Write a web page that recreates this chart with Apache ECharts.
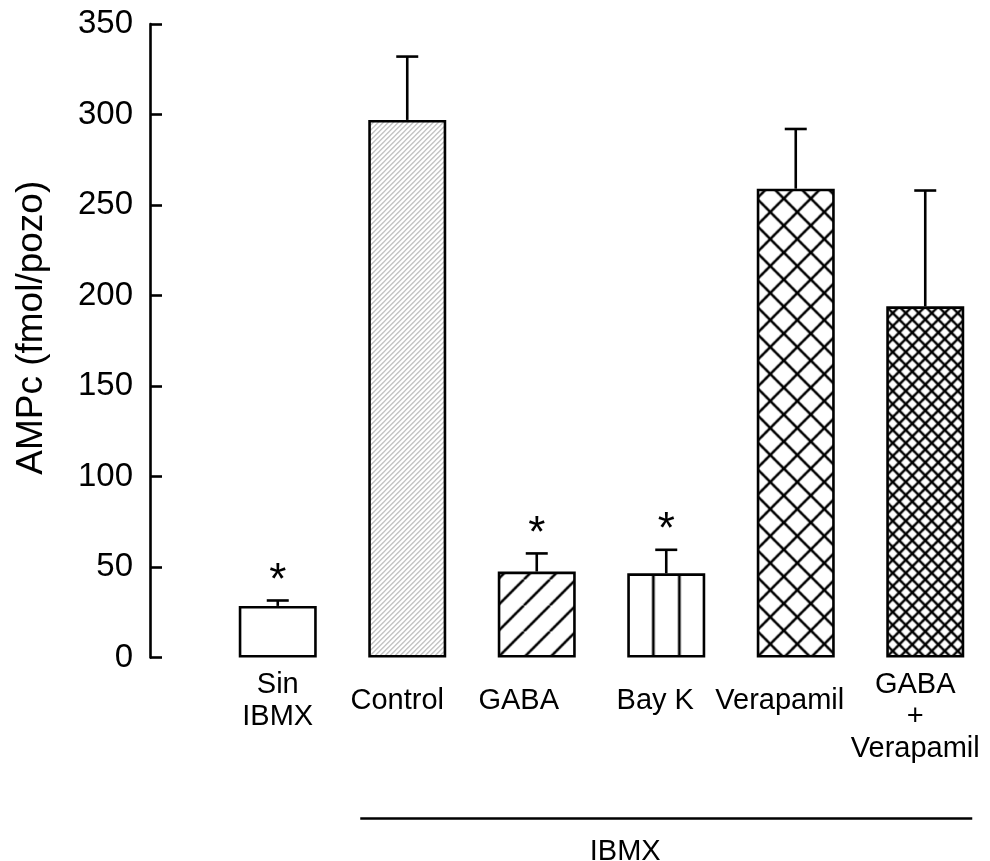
<!DOCTYPE html>
<html>
<head>
<meta charset="utf-8">
<script src="https://cdn.jsdelivr.net/npm/echarts@6/dist/echarts.min.js"></script>
<style>
  html, body { margin: 0; padding: 0; background: #fff; }
  #main { width: 990px; height: 861px; }
</style>
</head>
<body>
<div id="main"></div>
<script>
// data
var categories = ['Sin\nIBMX', 'Control', 'GABA', 'Bay K', 'Verapamil', 'GABA\n+\nVerapamil'];
var means = [28.5, 297, 47.5, 46.5, 259, 194];
var sem = [3, 35, 10, 13, 33, 64];
var signif = [1, 0, 1, 1, 0, 0];
var groupLabel = 'IBMX';

var FONT = '"Liberation Sans", Arial, sans-serif';
var BAR_W = 78;
// the original labels sit a little left of their bars
var labelShift = [0, 10, 18, 11, 16, 10];

// small canvas tiles for the hatch fills
function tile(w, h, draw) {
    var c = document.createElement('canvas');
    c.width = w; c.height = h;
    var ctx = c.getContext('2d');
    ctx.fillStyle = '#fff';
    ctx.fillRect(0, 0, w, h);
    draw(ctx, w, h);
    return c;
}
function diag(ctx, w, h, back) {
    for (var k = -1; k <= 1; k++) {
        ctx.beginPath();
        if (back) { ctx.moveTo(k * w, 0); ctx.lineTo(k * w + w, h); }
        else { ctx.moveTo(k * w, h); ctx.lineTo(k * w + w, 0); }
        ctx.stroke();
    }
}
var tiles = [
    null,
    tile(5, 5, function (ctx, w, h) { ctx.strokeStyle = '#8c8c8c'; ctx.lineWidth = 1; diag(ctx, w, h); }),
    tile(26, 26, function (ctx, w, h) { ctx.strokeStyle = '#000'; ctx.lineWidth = 2.6; diag(ctx, w, h); }),
    tile(26, 2, function (ctx, w, h) { ctx.fillStyle = '#000'; ctx.fillRect(0, 0, 1.4, h); ctx.fillRect(w - 1.3, 0, 1.3, h); }),
    tile(27, 27, function (ctx, w, h) { ctx.strokeStyle = '#000'; ctx.lineWidth = 2.6; diag(ctx, w, h); diag(ctx, w, h, true); }),
    tile(13, 13, function (ctx, w, h) { ctx.strokeStyle = '#000'; ctx.lineWidth = 2.4; diag(ctx, w, h); diag(ctx, w, h, true); })
];

var rich = {};
labelShift.forEach(function (s, i) {
    rich['r' + i] = { fontSize: 29, lineHeight: 32, color: '#000', fontFamily: FONT, padding: [0, 2 * s, 0, 0] };
});

var chart = echarts.init(document.getElementById('main'));

var option = {
    animation: false,
    grid: { left: 213, right: 0, top: 24, bottom: 203.5, containLabel: false, outerBoundsMode: 'none' },
    xAxis: {
        type: 'category',
        data: categories,
        axisLine: { show: false },
        axisTick: { show: false },
        axisLabel: {
            interval: 0,
            margin: 43,
            verticalAlign: 'middle',
            fontSize: 29,
            lineHeight: 32,
            color: '#000',
            fontFamily: FONT,
            formatter: function (v, i) {
                var lines = v.split('\n').map(function (l) { return '{r' + i + '|' + l + '}'; });
                if (lines.length > 2) lines.unshift('{r' + i + '| }');
                return lines.join('\n');
            },
            rich: rich
        }
    },
    yAxis: {
        type: 'value',
        min: 0, max: 350, interval: 50,
        offset: 63,
        name: 'AMPc (fmol/pozo)',
        nameLocation: 'middle',
        nameGap: 100,
        nameTextStyle: { fontSize: 37, color: '#000', fontFamily: FONT, padding: [0, 0, 0, 26] },
        axisLine: { show: true, lineStyle: { color: '#000', width: 2.6 } },
        axisTick: { show: true, inside: true, length: 12, lineStyle: { color: '#000', width: 2.6 } },
        axisLabel: { margin: 17, fontSize: 33, color: '#000', fontFamily: FONT },
        splitLine: { show: false }
    },
    series: [
        {
            type: 'bar',
            barWidth: BAR_W,
            data: means,
            itemStyle: { color: '#fff', borderColor: '#000', borderWidth: 2.6 }
        },
        {
            type: 'custom',
            z: 3,
            data: categories.map(function (c, i) { return [i, means[i], sem[i], signif[i]]; }),
            renderItem: function (params, api) {
                var i = api.value(0), m = api.value(1), e = api.value(2), s = api.value(3);
                var p0 = api.coord([i, m]);
                var p1 = api.coord([i, m + e]);
                var st = { stroke: '#000', lineWidth: 2.6 };
                var kids = [
                    { type: 'line', shape: { x1: p0[0], y1: p0[1], x2: p1[0], y2: p1[1] }, style: st },
                    { type: 'line', shape: { x1: p1[0] - 11, y1: p1[1], x2: p1[0] + 11, y2: p1[1] }, style: st }
                ];
                if (s) {
                    kids.push({
                        type: 'text', x: p1[0], y: p1[1] + 3,
                        style: { text: '*', fontSize: 44, fill: '#000', align: 'center', verticalAlign: 'bottom', fontFamily: FONT }
                    });
                }
                return { type: 'group', children: kids };
            }
        }
    ]
};
chart.setOption(option);

// second pass: anchor the hatch tiles on each bar, draw the IBMX bracket
var base = chart.convertToPixel({ yAxisIndex: 0 }, 0);
var barData = means.map(function (v, i) {
    var cx = chart.convertToPixel({ xAxisIndex: 0 }, i);
    if (!tiles[i]) return v;
    return {
        value: v,
        itemStyle: { color: { image: tiles[i], repeat: 'repeat', x: cx - BAR_W / 2, y: base } }
    };
});
var xa = chart.convertToPixel({ xAxisIndex: 0 }, 1);
var xb = chart.convertToPixel({ xAxisIndex: 0 }, 5);
var lineY = base + 161;
chart.setOption({
    series: [{ data: barData }],
    graphic: [
        { type: 'line', shape: { x1: xa - 47, y1: lineY, x2: xb + 47, y2: lineY }, style: { stroke: '#000', lineWidth: 2.6 } },
        { type: 'text', x: (xa + xb) / 2 - 41, y: lineY + 33, style: { text: groupLabel, fontSize: 29, fill: '#000', align: 'center', verticalAlign: 'middle', fontFamily: FONT } }
    ]
});
</script>
</body>
</html>
